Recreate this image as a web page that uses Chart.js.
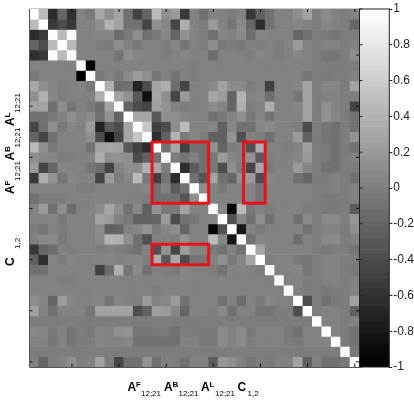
<!DOCTYPE html>
<html>
<head>
<meta charset="utf-8">
<style>
html,body{margin:0;padding:0;background:#fff;width:414px;height:400px;overflow:hidden}
canvas,svg{position:absolute;left:0;top:0}
svg{pointer-events:none}
svg text{font-family:"Liberation Sans",Arial,sans-serif;fill:#000}
.m{font-weight:700;font-size:12px}
.u{font-weight:700;font-size:8px}
.s{font-size:8px;fill:#000}
</style>
<script src="https://cdn.jsdelivr.net/npm/chart.js@4"></script>
</head>
<body>
<canvas id="main" width="414" height="400"></canvas>
<canvas id="bar" width="414" height="400"></canvas>
<svg width="414" height="400">
  <g>
    <text class="m" x="127.5" y="390.7">A</text><text class="u" x="136" y="387.3">F</text><text class="s" x="141" y="396">12;21</text>
    <text class="m" x="164" y="390.7">A</text><text class="u" x="172.5" y="387.3">B</text><text class="s" x="178.5" y="396">12;21</text>
    <text class="m" x="201" y="390.7">A</text><text class="u" x="209.5" y="387.3">L</text><text class="s" x="215" y="396">12;21</text>
    <text class="m" x="237.5" y="390.7">C</text><text class="s" x="247.5" y="396">1,2</text>
  </g>
  <g transform="translate(14 194) rotate(-90)"><text class="m" x="0" y="0">A</text><text class="u" x="8.5" y="-4.5">F</text><text class="s" x="13" y="6">12;21</text></g>
  <g transform="translate(14 160.5) rotate(-90)"><text class="m" x="0" y="0">A</text><text class="u" x="8.5" y="-4.5">B</text><text class="s" x="13" y="6">12;21</text></g>
  <g transform="translate(14 126) rotate(-90)"><text class="m" x="0" y="0">A</text><text class="u" x="8.5" y="-4.5">L</text><text class="s" x="13" y="6">12;21</text></g>
  <g transform="translate(14 266) rotate(-90)"><text class="m" x="0" y="0">C</text><text class="s" x="17" y="6">1,2</text></g>
</svg>
<script>
// Lower triangle of the symmetric correlation matrix, row by row
const r00=[1];
const r01=[.45,1];
const r02=[-.65,-.55,1];
const r03=[-.2,-.4,.45,1];
const r04=[-.6,-.55,.95,.45,1];
const r05=[0,0,0,0,0,1];
const r06=[-.05,0,0,0,0,-1,1];
const r07=[.3,.1,.05,-.03,0,0,-.05,1];
const r08=[.1,.4,.05,-.03,0,0,0,.35,1];
const r09=[.25,.25,-.15,.12,-.08,0,-.05,-.15,.25,1];
const r10=[-.1,-.1,-.05,0,.1,0,.08,-.1,.15,-.2,1];
const r11=[-.45,-.12,.1,-.05,.05,0,.2,-.7,-.3,-.4,.3,1];
const r12=[-.2,-.45,-.1,.03,.02,0,.1,-.4,-.85,-.45,.3,.55,1];
const r13=[.45,.1,-.05,.03,0,0,-.07,.28,.3,.25,-.3,-.5,-.65,1];
const r14=[.1,.05,.05,-.03,-.03,0,.02,.35,.1,.15,.1,-.4,-.25,-.12,1];
const r15=[.2,-.45,-.2,.05,0,0,-.08,-.15,-.45,.02,.1,.1,.4,.3,-.02,1];
const r16=[-.55,.35,.15,-.08,.05,0,.02,-.45,.2,-.03,.05,.45,-.05,-.5,-.08,-.65,1];
const r17=[0,0,0,0,0,-.02,-.02,0,0,0,0,0,.05,-.12,.03,-.28,-.1,1];
const r18=[-.1,-.03,-.03,-.02,0,0,0,0,0,0,0,0,-.03,-.12,-.12,-.12,-.32,.1,1];
const r19=[0,.2,-.1,.12,-.15,0,0,.08,.3,.1,-.12,.05,-.25,.15,-.05,-.05,.25,0,0,1];
const r20=[0,.03,.05,-.05,0,0,0,.25,.2,.02,-.05,-.25,-.25,-.2,.2,-.4,-.1,-.05,0,.05,1];
const r21=[-.03,-.07,.03,-.02,0,0,.02,.08,-.25,-.2,.02,.05,.15,-.02,.05,.1,-.2,.02,0,-.95,-.35,1];
const r22=[0,.07,.08,-.05,0,0,0,.08,.4,.35,.1,-.1,-.35,0,0,-.02,.15,0,0,.45,.05,-.8,1];
const r23=[-.55,-.2,-.15,.03,-.03,0,0,-.02,.02,-.02,-.05,-.1,.03,-.35,.15,-.45,.2,0,0,-.05,-.12,.02,-.1,1];
const r24=[-.25,-.65,.05,-.02,.06,0,.02,0,.05,0,.05,.05,-.03,.35,-.3,.3,-.4,-.08,-.08,0,.1,-.05,.05,.3,1];
const r25=[-.1,-.1,0,0,0,0,0,-.5,-.15,.35,-.07,.08,-.1,0,-.02,-.05,.05,0,0,-.02,-.1,0,0,0,-.02,1];
const r26=[0,0,0,-.02,-.02,0,0,0,0,0,0,0,0,.02,0,0,0,0,0,0,0,0,0,0,0,0,1];
const r27=[0,0,0,0,0,.01,.01,0,0,0,0,0,0,-.02,0,0,0,0,0,.01,.01,0,0,0,0,0,0,1];
const r28=[.1,.05,-.2,.2,.05,.03,.03,.05,-.07,.05,.03,-.02,.2,.03,.05,.2,-.1,0,0,0,-.12,.02,-.15,.03,-.05,.05,0,0,1];
const r29=[.27,.03,-.12,.03,.03,0,-.08,.25,.28,.25,.25,-.4,-.25,.22,.2,.05,-.2,0,0,-.03,.08,-.1,.02,0,-.07,-.07,-.02,-.02,-.4,1];
const r30=[-.03,-.03,-.03,-.03,-.03,-.03,-.03,-.03,-.03,-.03,-.03,-.03,-.03,-.03,-.03,-.03,-.03,-.03,-.03,-.03,-.03,-.03,-.03,-.03,-.03,-.03,-.03,-.03,-.03,-.03,1];
const r31=[.08,.06,-.05,.03,-.08,-.03,-.05,.05,.03,.12,.15,-.08,-.07,-.05,-.05,-.12,-.02,-.02,-.05,-.05,.08,0,.07,-.05,0,0,0,-.05,-.1,0,0,1];
const r32=[0,.03,-.07,.02,-.08,-.03,-.03,.05,.03,.03,.05,-.1,-.1,-.1,-.1,-.1,.02,.02,-.05,-.05,.08,.02,.08,-.03,0,0,0,-.03,-.05,0,0,0,1];
const r33=[-.02,-.02,-.02,-.02,-.02,-.02,-.02,-.02,-.02,-.02,-.02,-.02,-.02,-.02,-.02,-.02,-.02,-.02,-.02,-.02,-.02,-.02,-.02,-.02,-.02,-.02,-.02,-.02,-.02,-.02,-.02,-.02,-.02,1];
const r34=[.02,-.2,-.02,0,.1,-.02,0,.25,-.03,-.45,-.1,-.1,.15,-.1,0,-.03,-.1,0,0,-.28,.18,.1,0,-.07,-.02,-.05,0,0,.25,-.22,0,-.1,-.1,-.05,1];
const lowerRows=[r00,r01,r02,r03,r04,r05,r06,r07,r08,r09,r10,r11,r12,r13,r14,r15,r16,r17,r18,r19,r20,r21,r22,r23,r24,r25,r26,r27,r28,r29,r30,r31,r32,r33,r34];

const categories=lowerRows.map((_,i)=>String(i+1));
const cellTicks=[5,10,15,20,25,30,35];
const colorbarTicks=[-1,-.8,-.6,-.4,-.2,0,.2,.4,.6,.8,1];
const colorLevels=64;

// Red highlight boxes: [first col, last col edge, first row, last row edge]
const boxMain=[13,19,13,19];
const boxBelow=[13,19,23,25];
const boxRight=[22.7,25,13,19];

function cell(r,c){return r>=c?lowerRows[r][c]:lowerRows[c][r];}
function gray(v){
  const level=Math.min(colorLevels-1,Math.floor((v+1)/2*colorLevels));
  const g=Math.round(level/(colorLevels-1)*255);
  return `rgb(${g},${g},${g})`;
}
function boxPath(b){return [{x:b[0],y:b[2]},{x:b[1],y:b[2]},{x:b[1],y:b[3]},{x:b[0],y:b[3]},{x:b[0],y:b[2]}];}

const rowSets=categories.map((_,r)=>({
  type:'bar',order:2,grouped:false,
  data:categories.map(()=>[r,r+1]),
  backgroundColor:categories.map((_,c)=>gray(cell(r,c))),
  borderWidth:0,barPercentage:1,categoryPercentage:1
}));
const boxSets=[boxMain,boxBelow,boxRight].map(b=>({
  type:'line',order:1,xAxisID:'xb',data:boxPath(b),parsing:false,
  borderColor:'#e8141c',borderWidth:3,pointRadius:0,tension:0,fill:false,clip:false,
  borderCapStyle:'square',borderJoinStyle:'miter'
}));

const frameTicks={
  id:'frameTicks',
  afterDatasetsDraw(ch){
    const {ctx,chartArea:a,scales:{xb,y}}=ch;
    ctx.save();
    ctx.lineWidth=1;
    ctx.strokeStyle='#111';
    ctx.beginPath();
    for(const t of cellTicks){
      const px=xb.getPixelForValue(t-.5), py=y.getPixelForValue(t-.5);
      ctx.moveTo(px,a.top);ctx.lineTo(px,a.top+3);
      ctx.moveTo(px,a.bottom);ctx.lineTo(px,a.bottom-3.5);
      ctx.moveTo(a.left,py);ctx.lineTo(a.left+3,py);
      ctx.moveTo(a.right,py);ctx.lineTo(a.right-3.5,py);
    }
    ctx.stroke();
    ctx.strokeStyle='#c8c8c8';
    ctx.beginPath();ctx.moveTo(a.left,a.top-.5);ctx.lineTo(a.right,a.top-.5);ctx.stroke();
    ctx.strokeStyle='#555';
    ctx.beginPath();ctx.moveTo(a.left,a.top);ctx.lineTo(a.left,a.bottom);ctx.stroke();
    ctx.beginPath();ctx.moveTo(a.left,a.bottom+.5);ctx.lineTo(a.right,a.bottom+.5);ctx.stroke();
    ctx.restore();
  }
};

new Chart(document.getElementById('main'),{
  type:'bar',
  data:{labels:categories,datasets:[...boxSets,...rowSets]},
  options:{
    responsive:false,animation:false,devicePixelRatio:1,
    layout:{padding:{left:29.5,top:9,right:54.5,bottom:33}},
    plugins:{legend:{display:false},tooltip:{enabled:false}},
    scales:{
      x:{display:false,grid:{display:false}},
      xb:{type:'linear',display:false,offset:false,min:0,max:categories.length},
      y:{display:false,reverse:true,min:0,max:categories.length,grid:{display:false}}
    }
  },
  plugins:[frameTicks]
});

// Colour bar: one floating bar per colour level on a hidden level scale; the visible axis reads -1..1
const barSets=Array.from({length:colorLevels},(_,i)=>({
  yAxisID:'levels',data:[[i,i+1]],
  backgroundColor:gray(-1+(i+.5)*2/colorLevels),
  borderWidth:0,grouped:false,barPercentage:1,categoryPercentage:1
}));
const barFrame={
  id:'barFrame',
  afterDatasetsDraw(ch){
    const {ctx,chartArea:a,scales:{y}}=ch;
    ctx.save();
    ctx.lineWidth=1;ctx.strokeStyle='#222';
    ctx.strokeRect(a.left,a.top,a.right-a.left,a.bottom-a.top);
    ctx.beginPath();
    for(const t of colorbarTicks){
      const p=y.getPixelForValue(t);
      ctx.moveTo(a.left,p);ctx.lineTo(a.left+3,p);
    }
    ctx.stroke();
    ctx.restore();
  }
};
new Chart(document.getElementById('bar'),{
  type:'bar',
  data:{labels:['colorbar'],datasets:barSets},
  options:{
    responsive:false,animation:false,devicePixelRatio:1,
    layout:{padding:{left:359.5,top:9,right:0,bottom:33}},
    plugins:{legend:{display:false},tooltip:{enabled:false}},
    scales:{
      x:{display:false,grid:{display:false}},
      levels:{axis:'y',display:false,min:0,max:colorLevels,grid:{display:false}},
      y:{
        position:'right',min:-1,max:1,
        afterFit(s){s.width=24.7;},
        border:{display:false},
        grid:{drawOnChartArea:false,drawTicks:true,tickLength:3,color:'#222'},
        afterBuildTicks(s){s.ticks=colorbarTicks.map(v=>({value:v}));},
        ticks:{
          padding:1,color:'#222',autoSkip:false,
          font:{family:'"Liberation Sans",Arial,sans-serif',size:12},
          callback:v=>String(Math.round(v*10)/10)
        }
      }
    }
  },
  plugins:[barFrame]
});
</script>
</body>
</html>
